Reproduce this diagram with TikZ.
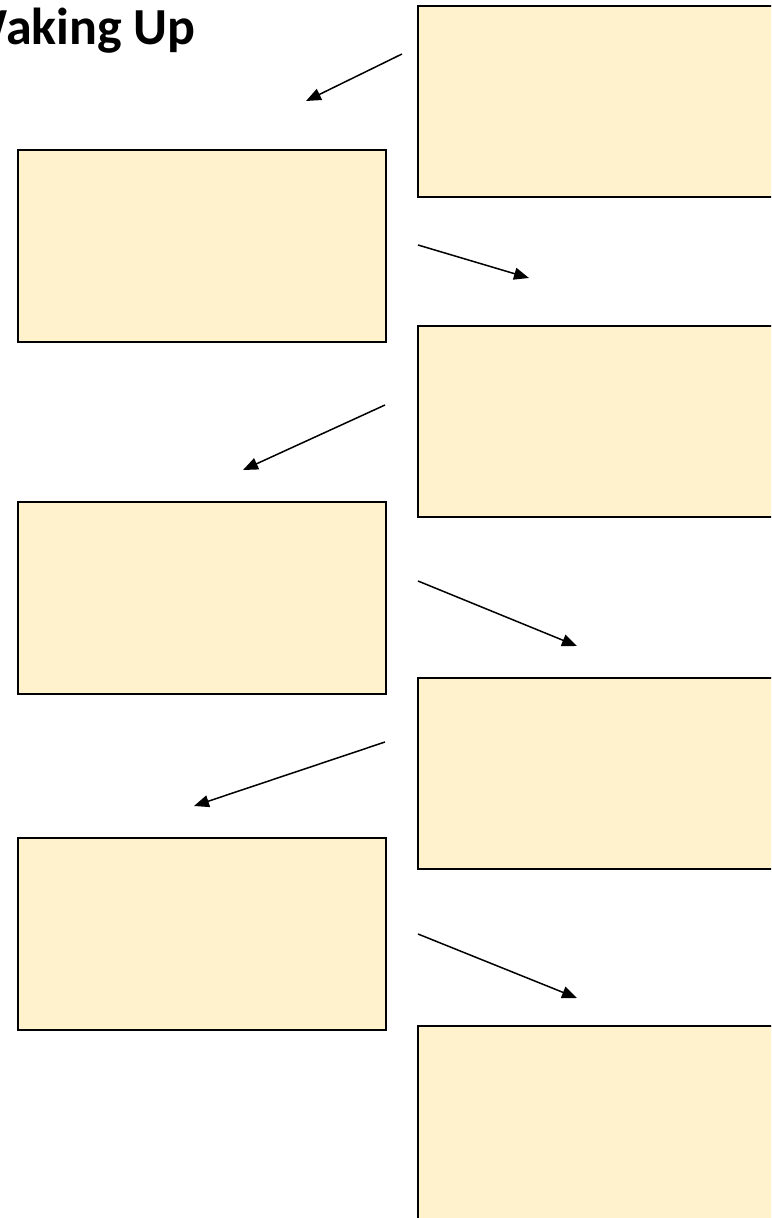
\documentclass[tikz,border=0pt]{standalone}
\usepackage{fontspec}
\setmainfont{Carlito}
\usetikzlibrary{arrows.meta}
\definecolor{boxfill}{HTML}{FFF2CC}
\tikzset{
  pbox/.style={draw=black, line width=2pt, fill=boxfill},
  conn/.style={line width=1.5pt, -{Triangle[length=15pt,width=12pt]}}
}
\begin{document}
\begin{tikzpicture}[x=1pt,y=-1pt]
\useasboundingbox (0,0) rectangle (771,1218);
\clip (0,0) rectangle (771,1218);
\fill[white] (0,0) rectangle (771,1218);
% title
\node[anchor=base east, inner sep=0pt, font=\fontsize{52}{60}\selectfont\bfseries] (title) at (196,44) {Waking Up};
% right column boxes
\draw[pbox] (418,6) rectangle (790,197);
\draw[pbox] (418,326) rectangle (790,517);
\draw[pbox] (418,678) rectangle (790,869);
\draw[pbox] (418,1026) rectangle (790,1240);
% left column boxes
\draw[pbox] (18,150) rectangle (386,342);
\draw[pbox] (18,502) rectangle (386,694);
\draw[pbox] (18,838) rectangle (386,1030);
% arrows
\coordinate (a1s) at (402,54);  \coordinate (a1e) at (306,101);
\coordinate (a2s) at (418,245); \coordinate (a2e) at (529,278);
\coordinate (a3s) at (385,405); \coordinate (a3e) at (243,470);
\coordinate (a4s) at (418,581); \coordinate (a4e) at (577,646);
\coordinate (a5s) at (385,742); \coordinate (a5e) at (194,806);
\coordinate (a6s) at (418,934); \coordinate (a6e) at (577,998);
\draw[conn] (a1s) -- (a1e);
\draw[conn] (a2s) -- (a2e);
\draw[conn] (a3s) -- (a3e);
\draw[conn] (a4s) -- (a4e);
\draw[conn] (a5s) -- (a5e);
\draw[conn] (a6s) -- (a6e);
\end{tikzpicture}
\end{document}
